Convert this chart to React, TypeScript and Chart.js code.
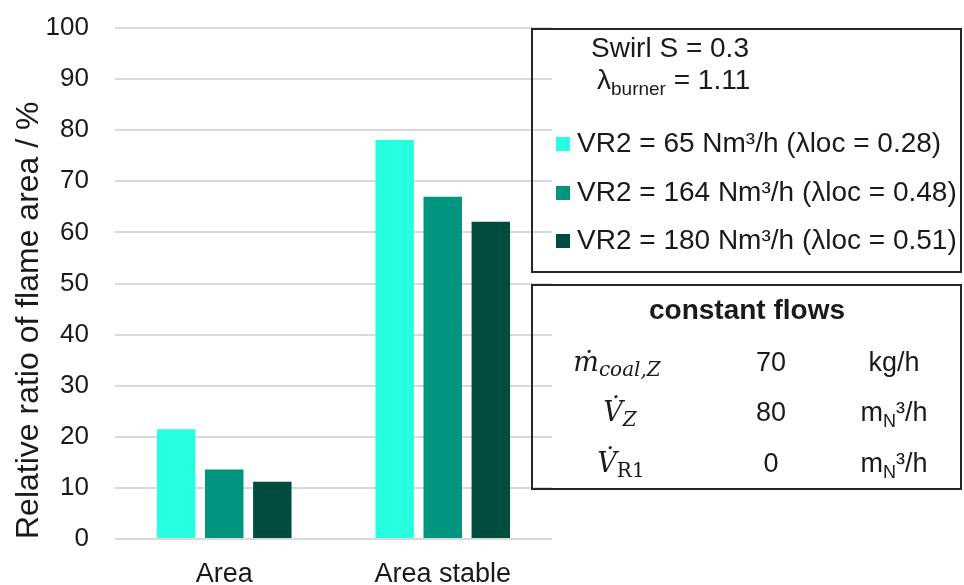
import React, { useEffect, useRef } from "react";
import { Chart, registerables } from "chart.js";

Chart.register(...registerables);

const categories = ["Area", "Area stable"];
const seriesLabels = [
  "VR2 = 65 Nm³/h (λloc = 0.28)",
  "VR2 = 164 Nm³/h (λloc = 0.48)",
  "VR2 = 180 Nm³/h (λloc = 0.51)",
];
const seriesColors = ["#26ffe0", "#00957f", "#004d40"];
const vr65 = [21.5, 78.1];
const vr164 = [13.6, 67.0];
const vr180 = [11.2, 62.1];
const yTicks = [0, 10, 20, 30, 40, 50, 60, 70, 80, 90, 100];
const yTitle = "Relative ratio of flame area / %";

const SANS = "'Liberation Sans', Arial, sans-serif";
const TEXT = "#1a1a1a";

export default function App() {
  const canvasRef = useRef<HTMLCanvasElement | null>(null);

  useEffect(() => {
    const canvas = canvasRef.current;
    if (!canvas) return;
    const seriesValues = [vr65, vr164, vr180];
    const chart = new Chart(canvas, {
      type: "bar",
      data: {
        labels: categories,
        datasets: seriesValues.map((vals, i) => ({
          label: seriesLabels[i],
          data: vals,
          backgroundColor: seriesColors[i],
          borderWidth: 0,
          categoryPercentage: 0.66,
          barPercentage: 0.8,
        })),
      },
      options: {
        responsive: false,
        animation: false,
        layout: { padding: { top: 28, right: 412, left: 0, bottom: 0 } },
        plugins: {
          legend: { display: false },
          tooltip: { enabled: false },
        },
        scales: {
          x: {
            grid: { display: false },
            border: { display: false },
            ticks: {
              font: { family: SANS, size: 27 },
              color: TEXT,
              padding: 11,
            },
            afterFit: (s: any) => {
              s.height = 46;
            },
          },
          y: {
            min: 0,
            max: 100,
            afterBuildTicks: (s: any) => {
              s.ticks = yTicks.map((v) => ({ value: v }));
            },
            ticks: {
              font: { family: SANS, size: 26 },
              color: TEXT,
              padding: 26,
            },
            grid: { color: "#d9d9d9", lineWidth: 2, drawTicks: false },
            border: { display: false },
            title: {
              display: true,
              text: yTitle,
              font: { family: SANS, size: 32 },
              color: TEXT,
              align: "start",
              padding: { top: 10, bottom: 0 },
            },
            afterFit: (s: any) => {
              s.width = 115;
              s.paddingTop = 0;
              s.paddingBottom = 0;
            },
          },
        },
      },
    });
    return () => chart.destroy();
  }, []);

  const boxStyle: React.CSSProperties = {
    position: "absolute",
    left: 531,
    width: 431,
    border: "2px solid #262626",
    boxSizing: "border-box",
  };
  const abs = (left: number, top: number, extra: React.CSSProperties = {}): React.CSSProperties => ({
    position: "absolute",
    left,
    top,
    lineHeight: 1,
    whiteSpace: "nowrap",
    ...extra,
  });
  const centered = (cx: number, top: number, extra: React.CSSProperties = {}): React.CSSProperties => ({
    position: "absolute",
    left: cx - 100,
    width: 200,
    top,
    textAlign: "center",
    lineHeight: 1,
    whiteSpace: "nowrap",
    ...extra,
  });
  const mathFont: React.CSSProperties = {
    fontFamily: "'DejaVu Serif', 'Liberation Serif', serif",
    fontStyle: "italic",
    fontSize: 27,
  };
  const rowTops = [129, 178, 226];

  return (
    <div
      style={{
        position: "fixed",
        left: 0,
        top: 0,
        width: 964,
        height: 585,
        background: "#fff",
        fontFamily: SANS,
        color: TEXT,
      }}
    >
      <canvas ref={canvasRef} width={964} height={585} style={{ position: "absolute", left: 0, top: 0 }} />

      {/* legend box */}
      <div style={{ ...boxStyle, top: 28, height: 245 }} />
      <div style={abs(591, 34, { fontSize: 28 })}>Swirl S = 0.3</div>
      <div style={abs(597, 66, { fontSize: 28 })}>
        λ<sub style={{ fontSize: 19, verticalAlign: -6 }}>burner</sub> = 1.11
      </div>
      {seriesLabels.map((lab, i) => (
        <React.Fragment key={lab}>
          <div
            style={{
              position: "absolute",
              left: 556,
              top: rowTops[i] + 8,
              width: 14,
              height: 14,
              background: seriesColors[i],
            }}
          />
          <div style={abs(577, rowTops[i], { fontSize: 28 })}>{lab}</div>
        </React.Fragment>
      ))}

      {/* constant flows box */}
      <div style={{ ...boxStyle, top: 284, height: 206 }} />
      <div style={centered(747, 296, { fontSize: 28, fontWeight: "bold" })}>constant flows</div>

      <div style={centered(617, 348, mathFont)}>
        ṁ<sub style={{ fontSize: 20, verticalAlign: -5 }}>coal,Z</sub>
      </div>
      <div style={centered(771, 349, { fontSize: 27 })}>70</div>
      <div style={centered(894, 349, { fontSize: 27 })}>kg/h</div>

      <div style={centered(620, 398, mathFont)}>
        V̇<sub style={{ fontSize: 20, verticalAlign: -5 }}>Z</sub>
      </div>
      <div style={centered(771, 399, { fontSize: 27 })}>80</div>
      <div style={centered(894, 399, { fontSize: 27 })}>
        m<sub style={{ fontSize: 18, verticalAlign: -6 }}>N</sub>³/h
      </div>

      <div style={centered(621, 449, mathFont)}>
        V̇<sub style={{ fontSize: 20, verticalAlign: -5, fontStyle: "normal" }}>R1</sub>
      </div>
      <div style={centered(771, 450, { fontSize: 27 })}>0</div>
      <div style={centered(894, 450, { fontSize: 27 })}>
        m<sub style={{ fontSize: 18, verticalAlign: -6 }}>N</sub>³/h
      </div>
    </div>
  );
}
